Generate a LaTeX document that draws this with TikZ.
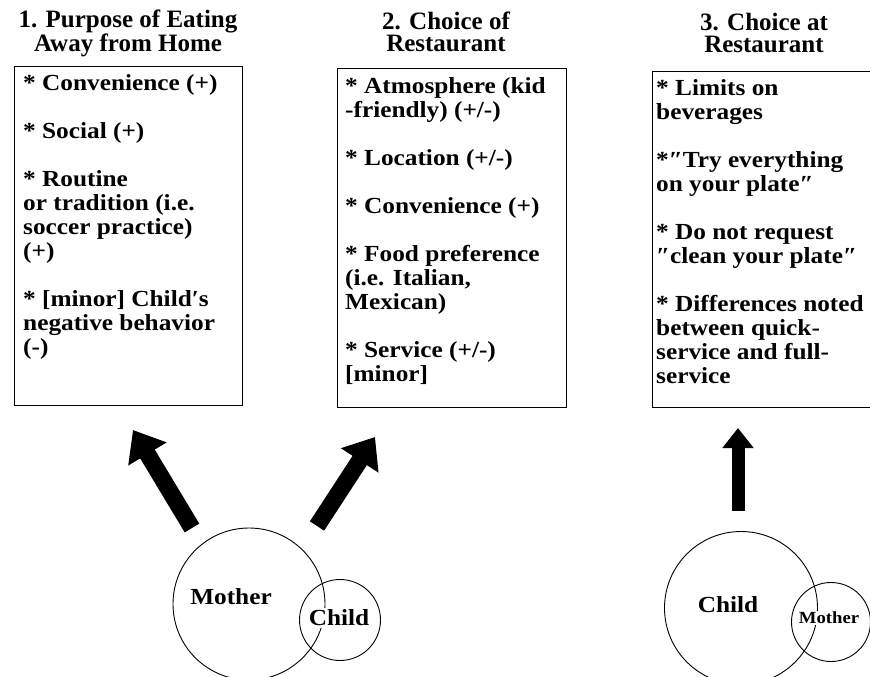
\documentclass[tikz,border=0pt]{standalone}
\usepackage{fontspec}
\setmainfont{Liberation Serif}
\newfontfamily\wideserif{Liberation Serif}[FakeStretch=1.1]
\usepackage{tikz}
\usetikzlibrary{arrows.meta}
\definecolor{ink}{HTML}{000000}
\definecolor{paper}{HTML}{FFFFFF}
\tikzset{
  panel/.style={draw=ink, line width=1.3pt, rectangle, anchor=north west, inner sep=0pt},
  items/.style={text=ink, anchor=base west, align=left, inner sep=0pt, font=\wideserif\bfseries\fontsize{23}{24}\selectfont},
  head/.style={text=ink, anchor=base, align=center, inner sep=0pt, font=\bfseries\fontsize{25}{22}\selectfont},
  ring/.style={draw=ink, line width=0.9pt, circle, inner sep=0pt},
  who/.style={text=ink, fill=paper, inner sep=2pt, font=\wideserif\bfseries\fontsize{23}{23}\selectfont},
  whos/.style={text=ink, fill=paper, inner sep=1.5pt, font=\wideserif\bfseries\fontsize{17}{17}\selectfont},
  push/.style={draw=ink, line width=17pt, -{Triangle[length=28pt,width=43pt]}},
  pushs/.style={draw=ink, line width=13pt, -{Triangle[length=20pt,width=30pt]}},
}
\begin{document}
\begin{tikzpicture}[x=1pt, y=-1pt]
  \clip (0,0) rectangle (870,677);
  \fill[paper] (0,0) rectangle (870,677);

  % headings (placed by their last line)
  \node[head] (headA) at (128,52) {1. Purpose of Eating\\Away from Home};
  \node[head] (headB) at (446,52) {2. Choice of\\Restaurant};
  \node[head] (headC) at (764,53) {3. Choice at\\Restaurant};

  % panels
  \node[panel, minimum width=228pt, minimum height=339pt] (boxA) at (14,66) {};
  \node[panel, minimum width=229pt, minimum height=339pt] (boxB) at (337,68) {};
  \node[panel, minimum width=260pt, minimum height=336pt] (boxC) at (652,71) {};

  % lists (base = last line)
  \node[items] (listA) at ([xshift=9pt, yshift=-288pt]boxA.north west) {%
* Convenience (+)\\[24pt]%
* Social (+)\\[24pt]%
* Routine\\or tradition (i.e.\\soccer practice)\\(+)\\[24pt]%
* [minor] Child′s\\negative behavior\\(-)};
  \node[items] (listB) at ([xshift=8pt, yshift=-313pt]boxB.north west) {%
* Atmosphere (kid\\-friendly) (+/-)\\[24pt]%
* Location (+/-)\\[24pt]%
* Convenience (+)\\[24pt]%
* Food preference\\(i.e. Italian,\\Mexican)\\[24pt]%
* Service (+/-)\\{[minor]}};
  \node[items] (listC) at ([xshift=4pt, yshift=-312pt]boxC.north west) {%
* Limits on\\beverages\\[24pt]%
*″Try everything\\on your plate″\\[24pt]%
* Do not request\\″clean your plate″\\[24pt]%
* Differences noted\\between quick-\\service and full-\\service};

  % arrows
  \coordinate (tailA) at (192,528); \coordinate (tipA) at (133,430);
  \coordinate (tailB) at (317,526); \coordinate (tipB) at (375,437);
  \coordinate (tailC) at (738,511); \coordinate (tipC) at (738,428);
  \draw[push] (tailA) -- (tipA);
  \draw[push] (tailB) -- (tipB);
  \draw[pushs] (tailC) -- (tipC);

  % circles
  \node[ring, minimum size=152pt] (mumA) at (249,604) {};
  \node[ring, minimum size=81pt] (kidA) at (340,620) {};
  \node[who] (mumAlab) at (231,597) {Mother};
  \node[who] (kidAlab) at (339,618) {Child};
  \node[ring, minimum size=153pt] (kidB) at (741,608) {};
  \node[ring, minimum size=79pt] (mumB) at (831,622) {};
  \node[who] (kidBlab) at (728,605) {Child};
  \node[whos] (mumBlab) at (829,618) {Mother};
\end{tikzpicture}
\end{document}
